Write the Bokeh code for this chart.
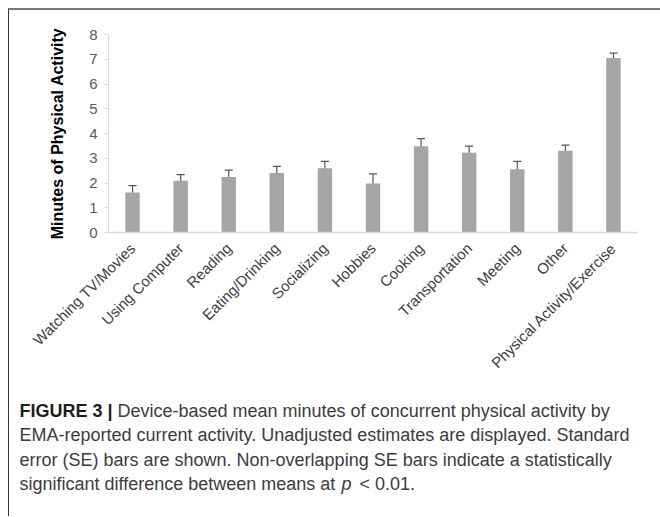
import math
from bokeh.plotting import figure
from bokeh.layouts import column
from bokeh.models import ColumnDataSource, Range1d, FactorRange, Whisker, TeeHead, Label, FixedTicker
from bokeh.embed import file_html
from bokeh.resources import INLINE

categories = ["Watching TV/Movies", "Using Computer", "Reading", "Eating/Drinking",
              "Socializing", "Hobbies", "Cooking", "Transportation", "Meeting",
              "Other", "Physical Activity/Exercise"]
means = [1.62, 2.09, 2.24, 2.40, 2.60, 1.98, 3.48, 3.22, 2.56, 3.30, 7.05]
se = [0.27, 0.25, 0.28, 0.27, 0.27, 0.39, 0.31, 0.27, 0.31, 0.23, 0.20]
y_ticks = [0, 1, 2, 3, 4, 5, 6, 7, 8]

caption_bold = "FIGURE 3 |"
caption_lines = [
    "Device-based mean minutes of concurrent physical activity by",
    "EMA-reported current activity. Unadjusted estimates are displayed. Standard",
    "error (SE) bars are shown. Non-overlapping SE bars indicate a statistically",
    "significant difference between means at",
]

src = ColumnDataSource(dict(
    cat=categories, mean=means,
    upper=[m + s for m, s in zip(means, se)],
    lower=[m - s for m, s in zip(means, se)],
))

W = 651
H1, H2 = 380, 126
p = figure(width=W, height=H1, x_range=FactorRange(*categories, range_padding=0),
           y_range=Range1d(0, 8), output_backend="svg", toolbar_location=None,
           min_border_left=99, min_border_right=23, min_border_top=24,
           min_border_bottom=158)
p.frame_align = False
p.outline_line_color = None
p.grid.visible = False
p.background_fill_color = "white"
p.border_fill_color = "white"

p.vbar(x="cat", top="mean", width=0.3, source=src, fill_color="#a5a5a5", line_color=None)
wh = Whisker(base="cat", upper="upper", lower="lower", source=src,
             line_color="#555555", line_width=1.2,
             upper_head=TeeHead(size=8, line_color="#555555", line_width=1.2),
             lower_head=TeeHead(size=8, line_color="#555555", line_width=1.2))
p.add_layout(wh)

ya = p.yaxis[0]
ya.ticker = FixedTicker(ticks=y_ticks)
ya.axis_line_color = "#d9d9d9"
ya.major_tick_line_color = "#d9d9d9"
ya.major_tick_out = 4
ya.major_tick_in = 0
ya.minor_tick_line_color = None
ya.major_label_text_font = "Liberation Sans"
ya.major_label_text_font_size = "15px"
ya.major_label_text_color = "#595959"
ya.major_label_standoff = 7
ya.axis_label = "Minutes of Physical Activity"
ya.axis_label_text_font = "Liberation Sans"
ya.axis_label_text_font_style = "bold"
ya.axis_label_text_font_size = "16px"
ya.axis_label_text_color = "#000000"
ya.axis_label_standoff = 20

xa = p.xaxis[0]
xa.axis_line_color = "#d9d9d9"
xa.axis_line_width = 1.5
xa.major_tick_line_color = None
xa.minor_tick_line_color = None
xa.major_label_orientation = math.pi / 4
xa.major_label_text_font = "Liberation Sans"
xa.major_label_text_font_size = "15px"
xa.major_label_text_color = "#404040"
xa.major_label_standoff = 7

# caption panel
c = figure(width=W, height=H2, x_range=Range1d(0, W), y_range=Range1d(0, H2),
           output_backend="svg", toolbar_location=None, min_border=0,
           x_axis_location=None, y_axis_location=None)
c.frame_align = False
c.outline_line_color = None
c.grid.visible = False

cap_font = "Liberation Sans"
cap_size = "18px"
cap_color = "#3c3c3c"
x0 = 10
ys = [106, 81.5, 57, 32.5]
c.add_layout(Label(x=x0, y=ys[0], text=caption_bold,
                   text_font=cap_font, text_font_size=cap_size, text_font_style="bold",
                   text_color="#1e1e1e", text_baseline="middle"))
c.add_layout(Label(x=x0 + 98, y=ys[0], text=caption_lines[0],
                   text_font=cap_font, text_font_size=cap_size, text_color=cap_color,
                   text_baseline="middle"))
for i in (1, 2, 3):
    c.add_layout(Label(x=x0, y=ys[i], text=caption_lines[i],
                       text_font=cap_font, text_font_size=cap_size, text_color=cap_color,
                       text_baseline="middle"))
c.add_layout(Label(x=x0 + 322, y=ys[3], text="p",
                   text_font=cap_font, text_font_size=cap_size, text_font_style="italic",
                   text_color=cap_color, text_baseline="middle"))
c.add_layout(Label(x=x0 + 340, y=ys[3], text="< 0.01.",
                   text_font=cap_font, text_font_size=cap_size, text_color=cap_color,
                   text_baseline="middle"))

layout = column(p, c, spacing=0)
layout.styles = {"margin-left": "8px", "margin-top": "8px",
                 "border-top": "2px solid #7a7a7a", "border-left": "1px solid #3a3a3a"}

open("out.html", "w").write(file_html(layout, INLINE))
